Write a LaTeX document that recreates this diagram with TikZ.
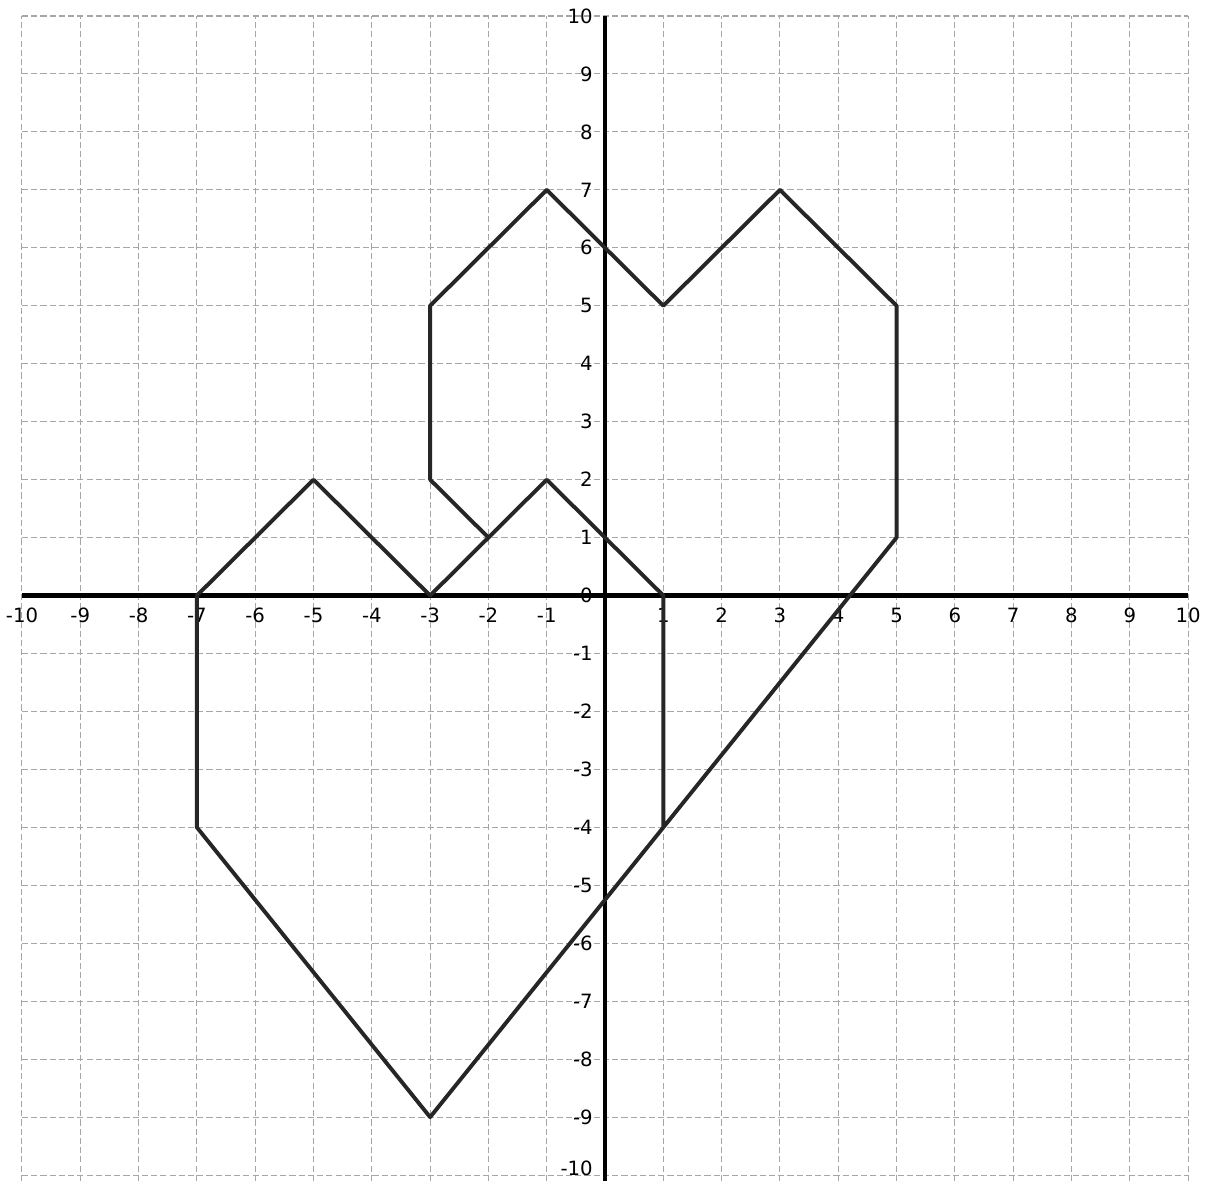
\documentclass[tikz,border=0pt]{standalone}
\usepackage{fontspec}
\setmainfont{DejaVu Sans}
\begin{document}
\begin{tikzpicture}[x=1cm,y=0.994cm,
  gridline/.style={gray!70, line width=0.5pt, dash pattern=on 3pt off 1.5pt},
  axisline/.style={black, line width=2.3pt},
  figline/.style={black!85, line width=1.9pt, line join=round, line cap=round},
  lab/.style={font=\fontsize{9.6}{10}\selectfont, inner sep=1pt}]
\useasboundingbox (-10.377,-10.086) rectangle (10.29,10.276);
% grid
\foreach \i in {-10,...,10}{
  \draw[gridline] (\i,-10.1) -- (\i,10);
  \draw[gridline] (-10,\i) -- (10,\i);
}
% axes
\draw[axisline] (-10,0) -- (10,0);
\draw[axisline] (0,-10.1) -- (0,10);
% labels
\foreach \i in {-10,...,-1,1,2,...,10}{
  \node[lab, anchor=north] at (\i,-0.17) {\i};
}
\foreach \i in {-9,...,-1,1,2,...,10}{
  \node[lab, anchor=east] at (-0.17,\i) {\i};
}
\node[lab, anchor=south east] at (-0.17,-10.06) {-10};
\node[lab, anchor=east] at (-0.17,0) {0};
% figure vertices
\coordinate (p1) at (-3,2);
\coordinate (p2) at (-3,5);
\coordinate (p3) at (-1,7);
\coordinate (p4) at (1,5);
\coordinate (p5) at (3,7);
\coordinate (p6) at (5,5);
\coordinate (p7) at (5,1);
\coordinate (p8) at (-3,-9);
\coordinate (p9) at (-7,-4);
\coordinate (p10) at (-7,0);
\coordinate (p11) at (-5,2);
\coordinate (p12) at (-3,0);
\coordinate (p13) at (-1,2);
\coordinate (p14) at (1,0);
\coordinate (p15) at (1,-4);
\coordinate (q1) at (-2,1);
\draw[figline] (p1) -- (p2) -- (p3) -- (p4) -- (p5) -- (p6) -- (p7) -- (p8)
  -- (p9) -- (p10) -- (p11) -- (p12) -- (p13) -- (p14) -- (p15);
\draw[figline] (p1) -- (q1);
\end{tikzpicture}
\end{document}
